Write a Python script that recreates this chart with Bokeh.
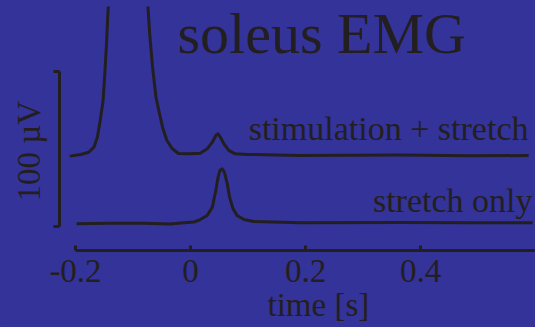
from bokeh.plotting import figure
from bokeh.models import Range1d, FixedTicker, Title
from bokeh.core.properties import value
from bokeh.embed import file_html
from bokeh.resources import INLINE

# ---- data (time in s, amplitude in microvolts) ----
stim_t = [-0.210, -0.191, -0.177, -0.168, -0.162, -0.157, -0.152, -0.149, -0.146, -0.144, -0.143,
          -0.109,
          -0.074, -0.071, -0.066, -0.060, -0.054, -0.048, -0.041, -0.032, -0.021, 0.000, 0.017,
          0.029, 0.038, 0.044, 0.048, 0.052, 0.058, 0.067, 0.078, 0.099, 0.191, 0.365, 0.487, 0.588]
stim_uv = [45.4, 46.5, 47.9, 51.2, 57.6, 68.4, 81.3, 98.7, 118.1, 135.0, 141.9,
           350.0,
           141.9, 124.5, 102.8, 83.4, 72.9, 63.2, 55.5, 50.3, 47.1, 46.9, 47.3,
           50.1, 54.4, 58.7, 59.8, 57.6, 53.4, 49.0, 46.9, 46.5, 45.8, 46.1, 45.6, 45.8]

stretch_t = [-0.198, -0.139, -0.081, -0.035, -0.017, 0.006, 0.017, 0.029, 0.038, 0.044, 0.048,
             0.051, 0.055, 0.059, 0.064, 0.068, 0.074, 0.081, 0.093, 0.110, 0.191, 0.365, 0.487, 0.595]
stretch_uv = [1.7, 2.1, 2.1, 1.6, 2.3, 2.9, 4.5, 7.1, 12.5, 23.2, 31.8,
              36.1, 37.2, 35.0, 27.5, 18.9, 11.4, 7.1, 4.5, 3.2, 2.4, 2.6, 2.4, 2.4]

x_ticks = [-0.2, 0.0, 0.2, 0.4]
x_tick_labels = ["-0.2", "0", "0.2", "0.4"]
scale_bar_uv = [0, 100]
trace_labels = ["stimulation + stretch", "stretch only"]
title_text = "soleus EMG"
x_label = "time [s]"
y_label = "100 \u00b5V"

# ---- style ----
BG = "#333399"
INK = "#231f20"
FONT = "Liberation Serif"

p = figure(width=535, height=327, output_backend="svg", toolbar_location=None,
           x_range=Range1d(-0.22783, 0.6), y_range=Range1d(-15.48, 141.94),
           min_border_left=59, min_border_right=0, min_border_top=6, min_border_bottom=77)
p.background_fill_color = BG
p.border_fill_color = BG
p.outline_line_color = None
p.grid.visible = False

p.line(stim_t, stim_uv, line_width=3, line_color=INK, line_join="round")
p.line(stretch_t, stretch_uv, line_width=3, line_color=INK, line_join="round")

p.text(x=[0.5878], y=[63.2], text=[trace_labels[0]], text_align="right",
       text_baseline="alphabetic", text_font=value(FONT), text_font_size="34px", text_color=INK)
p.text(x=[0.5948], y=[16.8], text=[trace_labels[1]], text_align="right",
       text_baseline="alphabetic", text_font=value(FONT), text_font_size="34px", text_color=INK)
p.text(x=[-0.0226], y=[124.5], text=[title_text], text_align="left",
       text_baseline="alphabetic", text_font=value(FONT), text_font_size="58px", text_color=INK)

xa = p.xaxis[0]
xa.ticker = FixedTicker(ticks=x_ticks)
xa.major_label_overrides = dict(zip(x_ticks, x_tick_labels))
xa.bounds = (-0.2, 0.6)
xa.axis_line_width = 3
xa.axis_line_color = INK
xa.major_tick_line_width = 3
xa.major_tick_line_color = INK
xa.major_tick_in = 5
xa.major_tick_out = 0
xa.minor_tick_line_color = None
xa.major_label_text_font = FONT
xa.major_label_text_font_size = "33px"
xa.major_label_text_color = INK
xa.major_label_standoff = 9

ya = p.yaxis[0]
ya.ticker = FixedTicker(ticks=scale_bar_uv)
ya.bounds = (0, 100)
ya.axis_line_width = 3
ya.axis_line_color = INK
ya.major_tick_line_width = 3
ya.major_tick_line_color = INK
ya.major_tick_in = 0
ya.major_tick_out = 6
ya.minor_tick_line_color = None
ya.major_label_text_color = None
ya.major_label_standoff = 0

# axis titles placed in the side panels so they can be offset along the axis
x_title = Title(text=x_label, align="left", offset=208, vertical_align="top", standoff=5,
                text_font=FONT, text_font_size="33px", text_font_style="normal", text_color=INK)
p.add_layout(x_title, "below")
y_title = Title(text=y_label, align="left", offset=49, vertical_align="bottom", standoff=14,
                text_font=FONT, text_font_size="33px", text_font_style="normal", text_color=INK)
p.add_layout(y_title, "left")

html = file_html(p, INLINE)
html = html.replace("<head>", "<head><style>html,body{margin:0;padding:0;background:#333399;overflow:hidden;}</style>", 1)
open("out.html", "w").write(html)
